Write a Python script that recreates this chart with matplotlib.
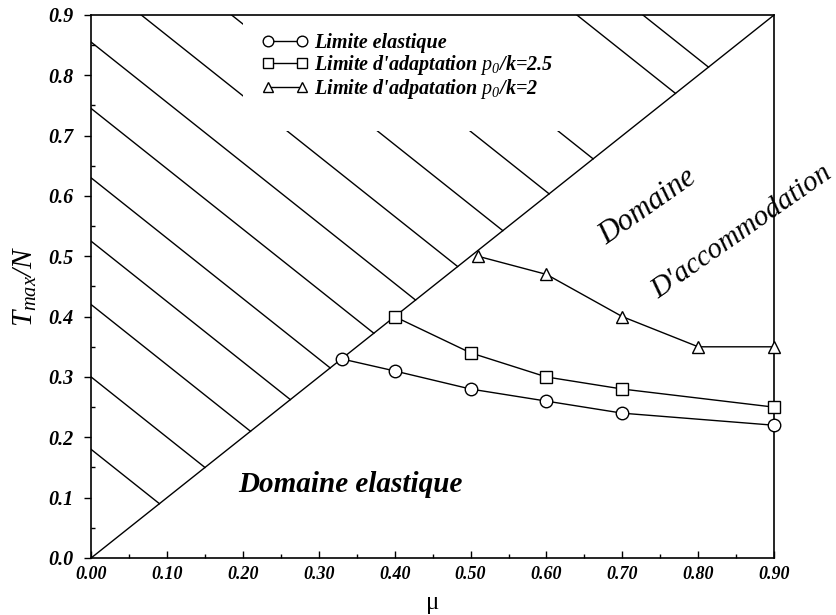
import numpy as np
import matplotlib
matplotlib.use("Agg")
from matplotlib import pyplot as plt
from matplotlib.patches import Rectangle
from matplotlib.ticker import MultipleLocator, FormatStrFormatter

plt.rcParams["font.family"] = ["Liberation Serif", "DejaVu Serif"]
plt.rcParams["mathtext.fontset"] = "custom"
plt.rcParams["mathtext.rm"] = "Liberation Serif:italic"
plt.rcParams["mathtext.it"] = "Liberation Serif:italic"

# données
mu_el = [0.33, 0.40, 0.50, 0.60, 0.70, 0.90]
t_el = [0.33, 0.31, 0.28, 0.26, 0.24, 0.22]

mu_25 = [0.40, 0.50, 0.60, 0.70, 0.90]
t_25 = [0.40, 0.34, 0.30, 0.28, 0.25]

mu_2 = [0.51, 0.60, 0.70, 0.80, 0.90]
t_2 = [0.50, 0.47, 0.40, 0.35, 0.35]

# hachures x + y = c au-dessus de la droite T/N = mu
hatch_c = [0.18, 0.30, 0.42, 0.525, 0.63, 0.745, 0.855, 0.966, 1.085,
           1.207, 1.323, 1.54, 1.627]

fig = plt.figure(figsize=(8.36, 6.15), dpi=100)
ax = fig.add_axes([0.109, 0.0927, 0.817, 0.883])

for c in hatch_c:
    x0 = max(0.0, c - 0.9)
    x1 = c / 2
    ax.plot([x0, x1], [c - x0, x1], color="black", lw=1.0, zorder=1)

# fond blanc de la légende
ax.add_patch(Rectangle((0.223, 0.786), 0.477, 0.22, transform=ax.transAxes,
                       facecolor="white", edgecolor="none", zorder=1.5))

ax.plot([0, 0.9], [0, 0.9], color="black", lw=1.0, zorder=2)

ax.plot(mu_el, t_el, color="black", lw=1.0, marker="o", ms=9,
        mfc="white", mec="black", mew=1.0, label="Limite elastique",
        zorder=3, clip_on=False)
ax.plot(mu_25, t_25, color="black", lw=1.0, marker="s", ms=8,
        mfc="white", mec="black", mew=1.0,
        label="Limite d'adaptation $p_0$/k=2.5", zorder=3, clip_on=False)
ax.plot(mu_2, t_2, color="black", lw=1.0, marker="^", ms=9,
        mfc="white", mec="black", mew=1.0,
        label="Limite d'adpatation $p_0$/k=2", zorder=3, clip_on=False)

ax.set_xlim(0, 0.9)
ax.set_ylim(0, 0.9)
ax.xaxis.set_major_locator(MultipleLocator(0.1))
ax.xaxis.set_minor_locator(MultipleLocator(0.05))
ax.yaxis.set_major_locator(MultipleLocator(0.1))
ax.yaxis.set_minor_locator(MultipleLocator(0.05))
ax.xaxis.set_major_formatter(FormatStrFormatter("%.2f"))
ax.yaxis.set_major_formatter(FormatStrFormatter("%.1f"))
ax.tick_params(axis="x", which="major", direction="in", length=5, width=1, pad=6)
ax.tick_params(axis="x", which="minor", direction="in", length=3, width=1)
ax.tick_params(axis="y", which="major", direction="out", length=5, width=1, pad=8)
ax.tick_params(axis="y", which="minor", direction="in", length=3, width=1)
for lab in ax.get_xticklabels():
    lab.set_fontstyle("italic")
    lab.set_fontweight("bold")
    lab.set_fontsize(13)
for lab in ax.get_yticklabels():
    lab.set_fontstyle("italic")
    lab.set_fontweight("bold")
    lab.set_fontsize(14.5)
for sp in ax.spines.values():
    sp.set_linewidth(1.2)

ax.set_xlabel("\u03bc", fontsize=18, labelpad=6)
ax.set_ylabel("$T_{max}/N$", fontsize=21, labelpad=6)

leg = ax.legend(loc="upper left", bbox_to_anchor=(0.235, 0.985), frameon=False,
                borderpad=0, numpoints=2, markerscale=0.85, handlelength=2.3,
                handletextpad=0.3, labelspacing=0.0,
                prop={"style": "italic", "weight": "bold", "size": 14.5})

ax.text(0.341, 0.121, "Domaine elastique", fontsize=21, fontstyle="italic",
        fontweight="bold", ha="center", va="center")
ax.text(0.733, 0.582, "Domaine", fontsize=22, fontstyle="italic",
        ha="center", va="center", rotation=35, rotation_mode="anchor")
ax.text(0.858, 0.541, "D'accommodation", fontsize=21, fontstyle="italic",
        ha="center", va="center", rotation=35, rotation_mode="anchor",
        clip_on=False)

fig.savefig("out.png", dpi=100)
